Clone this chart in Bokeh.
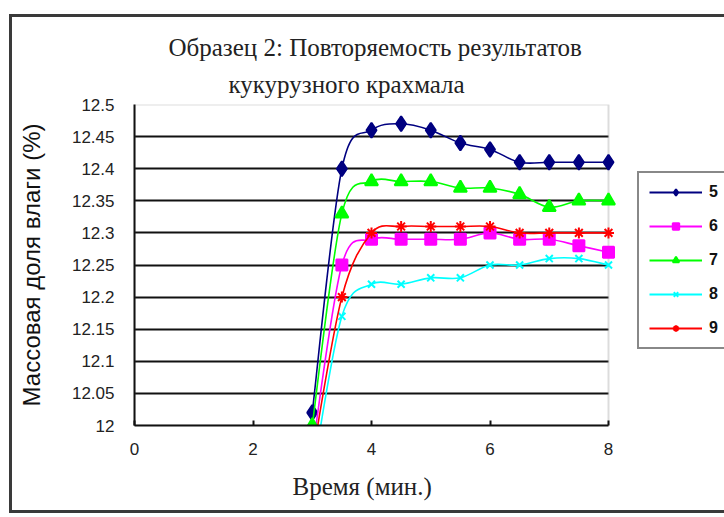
import numpy as np
from bokeh.plotting import figure
from bokeh.models import (Range1d, FixedTicker, Legend, LegendItem, Title,
                          ColumnDataSource, BoxAnnotation)
from bokeh.embed import file_html
from bokeh.resources import INLINE

# ---- data ----
time_min = [3, 3.5, 4, 4.5, 5, 5.5, 6, 6.5, 7, 7.5, 8]
s5 = [12.02, 12.40, 12.46, 12.47, 12.46, 12.44, 12.43, 12.41, 12.41, 12.41, 12.41]
s6 = [11.96, 12.25, 12.29, 12.29, 12.29, 12.29, 12.30, 12.29, 12.29, 12.28, 12.27]
s7 = [12.00, 12.33, 12.38, 12.38, 12.38, 12.37, 12.37, 12.36, 12.34, 12.35, 12.35]
s8 = [11.92, 12.17, 12.22, 12.22, 12.23, 12.23, 12.25, 12.25, 12.26, 12.26, 12.25]
s9 = [11.95, 12.20, 12.30, 12.31, 12.31, 12.31, 12.31, 12.30, 12.30, 12.30, 12.30]
series_names = ["5", "6", "7", "8", "9"]
series_values = [s5, s6, s7, s8, s9]
x_ticks = [0, 2, 4, 6, 8]
y_ticks = [12.0, 12.05, 12.1, 12.15, 12.2, 12.25, 12.3, 12.35, 12.4, 12.45, 12.5]
y_tick_labels = ["12", "12.05", "12.1", "12.15", "12.2", "12.25", "12.3",
                 "12.35", "12.4", "12.45", "12.5"]
title_lines = ["Образец 2: Повторяемость результатов", "кукурузного крахмала"]
x_title = "Время (мин.)"
y_title = "Массовая доля влаги (%)"

colors = ["#000080", "#FF00FF", "#00FF00", "#00FFFF", "#FF0000"]
markers = ["diamond", "square", "triangle", "x", "asterisk"]
msizes = [15, 11, 13, 10, 11]

X_MIN, X_MAX = 0, 8
Y_MIN, Y_MAX = 12, 12.5
# plot area is 474 px wide for 8 units; the frame runs on to the window edge
X_VIEW_END = X_MAX * (724 - 134) / 474.0

SANS = "Liberation Sans"
SERIF = "Liberation Serif"

border_css = """
:host { position: relative; }
:host::after {
  content: ""; position: absolute; left: 9px; top: 14px; right: 0px; bottom: 4px;
  border-left: 3px solid #3a3a3a; border-top: 3px solid #3a3a3a;
  border-bottom: 3px solid #3a3a3a; pointer-events: none;
}
"""

p = figure(width=724, height=517, output_backend="svg", toolbar_location=None,
           x_range=Range1d(X_MIN, X_VIEW_END), y_range=Range1d(Y_MIN, Y_MAX),
           min_border_left=134, min_border_right=0,
           min_border_top=104, min_border_bottom=92,
           stylesheets=[border_css])
p.background_fill_color = "white"
p.border_fill_color = "white"
p.outline_line_color = None

# title (two lines; later-added title sits nearer the frame)
p.title.text = title_lines[0]
p.title.text_font = SERIF
p.title.text_font_size = "25px"
p.title.text_font_style = "normal"
p.title.text_color = "#222222"
p.title.align = "left"
p.title.offset = 34
p.title.standoff = 1
p.add_layout(Title(text=title_lines[1], text_font=SERIF, text_font_size="25px",
                   text_font_style="normal", text_color="#222222",
                   align="left", offset=94, standoff=14), "above")

# axes
p.xaxis.ticker = FixedTicker(ticks=x_ticks)
p.xaxis.bounds = (X_MIN, X_MAX)
p.yaxis.ticker = FixedTicker(ticks=y_ticks)
p.yaxis.major_label_overrides = {t: l for t, l in zip(y_ticks, y_tick_labels)}
for ax in (p.xaxis, p.yaxis):
    ax.axis_line_color = "#111111"
    ax.axis_line_width = 2
    ax.major_tick_line_color = "#111111"
    ax.major_tick_line_width = 2
    ax.minor_tick_line_color = None
    ax.major_label_text_font = SANS
    ax.major_label_text_font_size = "17px"
    ax.major_label_text_color = "#222222"
p.xaxis.major_tick_in = 5
p.xaxis.major_tick_out = 0
p.xaxis.major_label_standoff = 17
p.yaxis.major_tick_in = 0
p.yaxis.major_tick_out = 0
p.yaxis.major_label_standoff = 20

# x-axis title placed below the axis, aligned to the plot area
p.add_layout(Title(text=x_title, text_font=SERIF, text_font_size="25px",
                   text_font_style="normal", text_color="#222222",
                   align="left", offset=158, standoff=27), "below")

p.yaxis.axis_label = y_title
p.yaxis.axis_label_text_font = SANS
p.yaxis.axis_label_text_font_size = "24px"
p.yaxis.axis_label_text_font_style = "normal"
p.yaxis.axis_label_text_color = "#111111"
p.yaxis.axis_label_standoff = 24

p.xgrid.grid_line_color = None
p.ygrid.ticker = FixedTicker(ticks=y_ticks)
p.ygrid.grid_line_color = "#111111"
p.ygrid.grid_line_width = 2

# blank the frame to the right of the plot area, then outline the plot area
p.add_layout(BoxAnnotation(left=X_MAX, fill_color="white", fill_alpha=1.0,
                           line_color=None, level="underlay"))
p.add_layout(BoxAnnotation(left=X_MIN, right=X_MAX, bottom=Y_MIN, top=Y_MAX,
                           fill_color=None, line_color="#8a8a8a", line_width=2,
                           level="underlay"))

# smoothed lines via bezier segments + markers
legend_items = []
for name, vals, col, mk, ms in zip(series_names, series_values, colors, markers, msizes):
    xs = np.array(time_min, dtype=float)
    ys = np.array(vals, dtype=float)
    n = len(xs)
    xp = np.concatenate([[xs[0]], xs, [xs[-1]]])
    yp = np.concatenate([[ys[0]], ys, [ys[-1]]])
    x0, y0, x1, y1 = xs[:-1], ys[:-1], xs[1:], ys[1:]
    cx0 = xs[:-1] + (xp[2:n + 1] - xp[0:n - 1]) / 6.0
    cy0 = ys[:-1] + (yp[2:n + 1] - yp[0:n - 1]) / 6.0
    cx1 = xs[1:] - (xp[3:n + 2] - xp[1:n]) / 6.0
    cy1 = ys[1:] - (yp[3:n + 2] - yp[1:n]) / 6.0
    src = ColumnDataSource(dict(x0=x0, y0=y0, x1=x1, y1=y1,
                                cx0=cx0, cy0=cy0, cx1=cx1, cy1=cy1))
    p.bezier(x0="x0", y0="y0", x1="x1", y1="y1", cx0="cx0", cy0="cy0",
             cx1="cx1", cy1="cy1", source=src, line_color=col, line_width=1.6)
    mr = p.scatter(time_min, vals, marker=mk, size=ms, fill_color=col,
                   line_color=col, line_width=2)
    lr = p.line(x=[np.nan], y=[np.nan], line_color=col, line_width=2)
    legend_items.append(LegendItem(label=name, renderers=[lr, mr]))

legend = Legend(items=legend_items, location=(503, 76))
legend.border_line_color = "#111111"
legend.border_line_width = 2
legend.background_fill_color = "white"
legend.padding = 10
legend.margin = 0
legend.spacing = 16
legend.glyph_height = 16
legend.glyph_width = 53
legend.label_standoff = 7
legend.label_text_font = SANS
legend.label_text_font_size = "16px"
legend.label_text_font_style = "bold"
legend.label_text_color = "#111111"
legend.label_height = 16
legend.label_width = 16
p.add_layout(legend, "center")

open("out.html", "w").write(file_html(p, INLINE))
